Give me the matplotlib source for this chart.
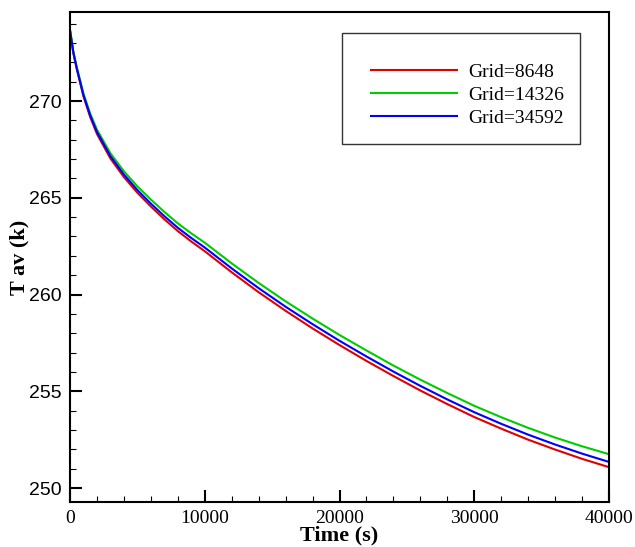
import matplotlib
matplotlib.use("Agg")
import matplotlib.pyplot as plt
from matplotlib.ticker import MultipleLocator
from matplotlib.patches import Rectangle

# values
time_s = [0, 250, 500, 1000, 1500, 2000, 3000, 4000, 5000, 6000, 7000, 8000,
          9000, 10000, 12000, 14000, 16000, 18000, 20000, 22000, 24000, 26000,
          28000, 30000, 32000, 34000, 36000, 38000, 40000]

t_grid_8648 = [273.6, 272.48, 271.66, 270.24, 269.17, 268.30, 267.03, 266.07,
               265.26, 264.55, 263.89, 263.28, 262.74, 262.24, 261.15, 260.12,
               259.16, 258.25, 257.39, 256.57, 255.79, 255.04, 254.34, 253.67,
               253.07, 252.50, 251.99, 251.51, 251.08]

t_grid_14326 = [273.7, 272.53, 271.75, 270.38, 269.35, 268.52, 267.30, 266.37,
                265.59, 264.91, 264.27, 263.68, 263.16, 262.68, 261.61, 260.60,
                259.65, 258.76, 257.91, 257.11, 256.33, 255.60, 254.91, 254.25,
                253.66, 253.11, 252.61, 252.16, 251.75]

t_grid_34592 = [273.65, 272.5, 271.7, 270.3, 269.25, 268.4, 267.15, 266.2,
                265.4, 264.7, 264.05, 263.45, 262.92, 262.43, 261.35, 260.33,
                259.37, 258.47, 257.61, 256.80, 256.02, 255.28, 254.58, 253.92,
                253.32, 252.76, 252.25, 251.78, 251.35]

labels = ["Grid=8648", "Grid=14326", "Grid=34592"]
colors = ["#e00000", "#00cc00", "#0000ff"]

fig = plt.figure(figsize=(6.35, 5.47), dpi=100)
ax = fig.add_axes([70 / 635, 45 / 547, 539 / 635, 490 / 547])

for ys, lab, c in zip([t_grid_8648, t_grid_14326, t_grid_34592], labels, colors):
    ax.plot(time_s, ys, color=c, lw=1.5, label=lab)

ax.set_xlim(0, 40000)
ax.set_ylim(249.28, 274.6)

ax.xaxis.set_major_locator(MultipleLocator(10000))
ax.xaxis.set_minor_locator(MultipleLocator(2000))
ax.yaxis.set_major_locator(MultipleLocator(5))
ax.yaxis.set_minor_locator(MultipleLocator(1))

for s in ax.spines.values():
    s.set_linewidth(1.5)

ax.tick_params(which="both", direction="in", top=False, right=False)
ax.tick_params(which="major", length=8.5, width=1.5)
ax.tick_params(which="minor", length=4.3, width=0.8)
ax.tick_params(axis="y", which="major", pad=6, labelsize=14)
ax.tick_params(axis="x", which="major", pad=6, labelsize=14)

for t in ax.get_yticklabels():
    t.set_fontfamily("Liberation Sans")
for t in ax.get_xticklabels():
    t.set_fontfamily("Liberation Serif")

ax.set_xlabel("Time (s)", fontfamily="Liberation Serif", fontweight="bold",
              fontsize=16, labelpad=-1)
ax.set_ylabel("T av (k)", fontfamily="Liberation Serif", fontweight="bold",
              fontsize=16, labelpad=0)

# legend box drawn separately so its padding matches the original
ax.add_patch(Rectangle((0.505, 0.731), 0.441, 0.226, transform=ax.transAxes,
                       fill=False, edgecolor="#333333", lw=1.0, zorder=5))
ax.legend(loc="upper left", bbox_to_anchor=(0.541, 0.915), frameon=False,
          borderpad=0, handlelength=4.4, handletextpad=0.6, labelspacing=0.28,
          prop={"family": "Liberation Serif", "size": 14})

plt.savefig("out.png", dpi=100)
